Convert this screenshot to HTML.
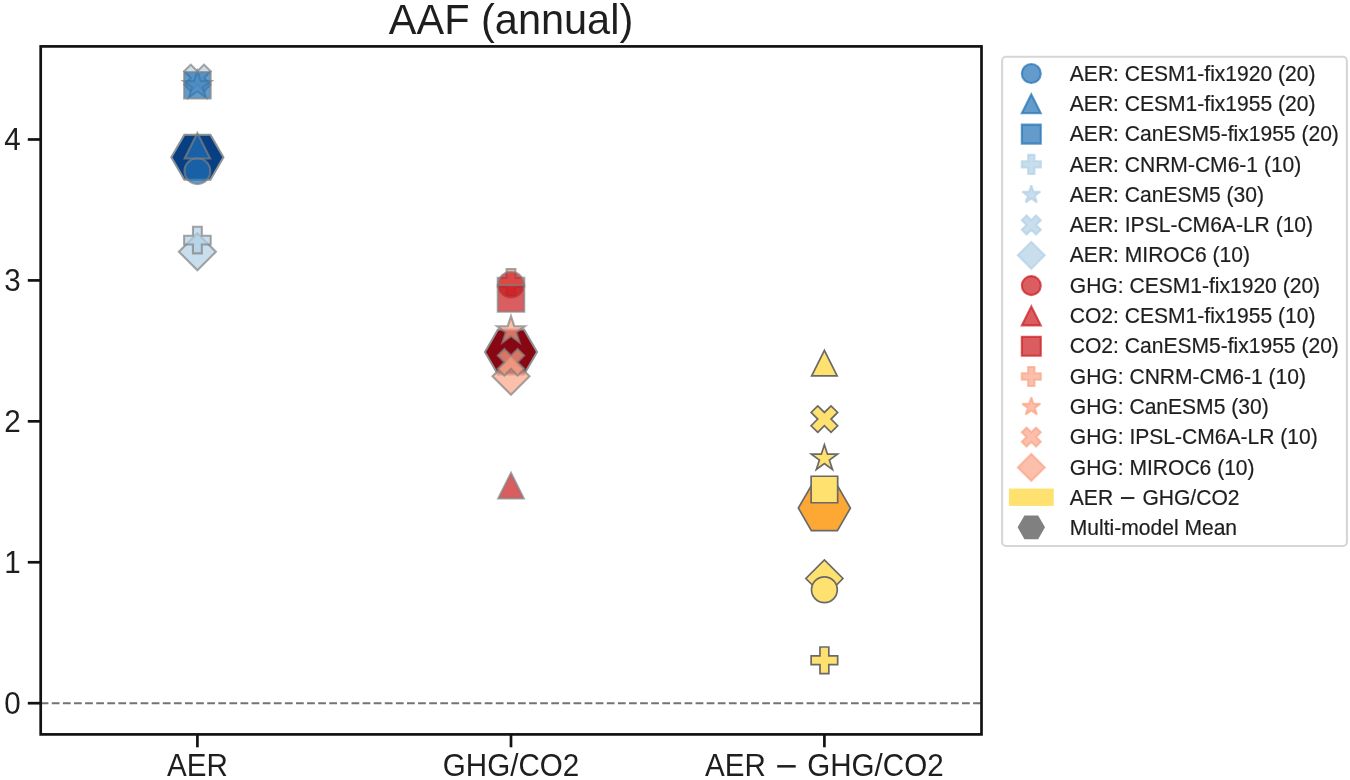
<!DOCTYPE html>
<html lang="en">
<head>
<meta charset="utf-8">
<title>AAF (annual)</title>
<style>
html,body{margin:0;padding:0;background:#ffffff;}
body{width:1350px;height:780px;overflow:hidden;font-family:"Liberation Sans",Arial,sans-serif;}
svg{display:block;}
</style>
</head>
<body>
<svg width="1350" height="780" viewBox="0 0 1350 780">
<rect width="1350" height="780" fill="#ffffff"/>
<line x1="40.7" y1="703.2" x2="981.5" y2="703.2" stroke="#737373" stroke-width="2.08" stroke-dasharray="7.75 3.35"/>
<g><path d="M223.45 157.2 L210.43 134.64 L184.38 134.64 L171.35 157.2 L184.38 179.76 L210.43 179.76 Z" fill="#083f82" fill-opacity="1" stroke="#8e9393" stroke-opacity="1" stroke-width="2" stroke-linejoin="miter" stroke-miterlimit="10"/>
<path d="M197.4 270.23 L215.93 251.7 L197.4 233.17 L178.87 251.7 Z" fill="#b0d0e5" fill-opacity="0.7" stroke="#808080" stroke-opacity="0.7" stroke-width="2.08" stroke-linejoin="miter" stroke-miterlimit="10"/>
<path d="M190.76 91.18 L197.4 84.54 L204.04 91.18 L210.68 84.54 L204.04 77.9 L210.68 71.26 L204.04 64.62 L197.4 71.26 L190.76 64.62 L184.12 71.26 L190.76 77.9 L184.12 84.54 Z" fill="#b0d0e5" fill-opacity="0.7" stroke="#808080" stroke-opacity="0.7" stroke-width="2.08" stroke-linejoin="miter" stroke-miterlimit="10"/>
<path d="M197.4 71 L194.12 81.09 L183.51 81.09 L192.1 87.32 L188.82 97.41 L197.4 91.18 L205.98 97.41 L202.7 87.32 L211.29 81.09 L200.68 81.09 Z" fill="#b0d0e5" fill-opacity="0.7" stroke="#808080" stroke-opacity="0.7" stroke-width="2.08" stroke-linejoin="miter" stroke-miterlimit="10"/>
<path d="M192.97 253.38 L201.83 253.38 L201.83 244.53 L210.68 244.53 L210.68 235.67 L201.83 235.67 L201.83 226.82 L192.97 226.82 L192.97 235.67 L184.12 235.67 L184.12 244.53 L192.97 244.53 Z" fill="#b0d0e5" fill-opacity="0.7" stroke="#808080" stroke-opacity="0.7" stroke-width="2.08" stroke-linejoin="miter" stroke-miterlimit="10"/>
<circle cx="197.4" cy="171.2" r="12.9" fill="#2171b5" fill-opacity="0.7" stroke="#808080" stroke-opacity="0.7" stroke-width="2.08" stroke-linejoin="miter" stroke-miterlimit="10"/>
<path d="M197.4 133.05 L184.65 158.55 L210.15 158.55 Z" fill="#2171b5" fill-opacity="0.7" stroke="#808080" stroke-opacity="0.7" stroke-width="2.08" stroke-linejoin="miter" stroke-miterlimit="10"/>
<path d="M184.12 98.53 L210.68 98.53 L210.68 71.97 L184.12 71.97 Z" fill="#2171b5" fill-opacity="0.7" stroke="#808080" stroke-opacity="0.7" stroke-width="2.08" stroke-linejoin="miter" stroke-miterlimit="10"/>
<path d="M537.05 352 L524.02 329.44 L497.98 329.44 L484.95 352 L497.97 374.56 L524.02 374.56 Z" fill="#880712" fill-opacity="1" stroke="#8e9393" stroke-opacity="1" stroke-width="2" stroke-linejoin="miter" stroke-miterlimit="10"/>
<path d="M511 394.73 L529.53 376.2 L511 357.67 L492.47 376.2 Z" fill="#fba487" fill-opacity="0.7" stroke="#808080" stroke-opacity="0.7" stroke-width="2.08" stroke-linejoin="miter" stroke-miterlimit="10"/>
<path d="M504.36 375.47 L511 368.84 L517.64 375.47 L524.27 368.84 L517.64 362.2 L524.27 355.56 L517.64 348.93 L511 355.56 L504.36 348.93 L497.73 355.56 L504.36 362.2 L497.73 368.84 Z" fill="#fba487" fill-opacity="0.7" stroke="#808080" stroke-opacity="0.7" stroke-width="2.08" stroke-linejoin="miter" stroke-miterlimit="10"/>
<path d="M511 316.1 L507.72 326.19 L497.11 326.19 L505.7 332.42 L502.42 342.51 L511 336.28 L519.58 342.51 L516.3 332.42 L524.89 326.19 L514.28 326.19 Z" fill="#fba487" fill-opacity="0.7" stroke="#808080" stroke-opacity="0.7" stroke-width="2.08" stroke-linejoin="miter" stroke-miterlimit="10"/>
<path d="M506.57 295.57 L515.42 295.57 L515.42 286.73 L524.27 286.73 L524.27 277.88 L515.42 277.88 L515.42 269.03 L506.57 269.03 L506.57 277.88 L497.73 277.88 L497.73 286.73 L506.57 286.73 Z" fill="#fba487" fill-opacity="0.7" stroke="#808080" stroke-opacity="0.7" stroke-width="2.08" stroke-linejoin="miter" stroke-miterlimit="10"/>
<circle cx="511" cy="284.6" r="12.9" fill="#cb181d" fill-opacity="0.7" stroke="#808080" stroke-opacity="0.7" stroke-width="2.08" stroke-linejoin="miter" stroke-miterlimit="10"/>
<path d="M511 472.95 L498.25 498.45 L523.75 498.45 Z" fill="#cb181d" fill-opacity="0.7" stroke="#808080" stroke-opacity="0.7" stroke-width="2.08" stroke-linejoin="miter" stroke-miterlimit="10"/>
<path d="M497.73 311.77 L524.27 311.77 L524.27 285.23 L497.73 285.23 Z" fill="#cb181d" fill-opacity="0.7" stroke="#808080" stroke-opacity="0.7" stroke-width="2.08" stroke-linejoin="miter" stroke-miterlimit="10"/>
<path d="M850.45 508.1 L837.42 485.54 L811.38 485.54 L798.35 508.1 L811.38 530.66 L837.42 530.66 Z" fill="#fda834" fill-opacity="1" stroke="#696969" stroke-opacity="1" stroke-width="1.7" stroke-linejoin="miter" stroke-miterlimit="10"/>
<path d="M824.4 597.03 L842.93 578.5 L824.4 559.97 L805.87 578.5 Z" fill="#ffe170" fill-opacity="1" stroke="#696969" stroke-opacity="1" stroke-width="1.7" stroke-linejoin="miter" stroke-miterlimit="10"/>
<path d="M817.76 432.38 L824.4 425.74 L831.04 432.38 L837.67 425.74 L831.04 419.1 L837.67 412.46 L831.04 405.83 L824.4 412.46 L817.76 405.83 L811.12 412.46 L817.76 419.1 L811.12 425.74 Z" fill="#ffe170" fill-opacity="1" stroke="#696969" stroke-opacity="1" stroke-width="1.7" stroke-linejoin="miter" stroke-miterlimit="10"/>
<path d="M824.4 444.65 L821.31 454.15 L811.32 454.15 L819.41 460.02 L816.32 469.52 L824.4 463.65 L832.48 469.52 L829.39 460.02 L837.48 454.15 L827.49 454.15 Z" fill="#ffe170" fill-opacity="1" stroke="#696969" stroke-opacity="1" stroke-width="1.7" stroke-linejoin="miter" stroke-miterlimit="10"/>
<path d="M819.98 673.57 L828.82 673.57 L828.82 664.72 L837.67 664.72 L837.67 655.88 L828.82 655.88 L828.82 647.02 L819.98 647.02 L819.98 655.88 L811.12 655.88 L811.12 664.72 L819.98 664.72 Z" fill="#ffe170" fill-opacity="1" stroke="#696969" stroke-opacity="1" stroke-width="1.7" stroke-linejoin="miter" stroke-miterlimit="10"/>
<circle cx="824.4" cy="589.8" r="12.9" fill="#ffe170" fill-opacity="1" stroke="#696969" stroke-opacity="1" stroke-width="1.7" stroke-linejoin="miter" stroke-miterlimit="10"/>
<path d="M824.4 350.45 L811.65 375.95 L837.15 375.95 Z" fill="#ffe170" fill-opacity="1" stroke="#696969" stroke-opacity="1" stroke-width="1.7" stroke-linejoin="miter" stroke-miterlimit="10"/>
<path d="M811.12 502.77 L837.67 502.77 L837.67 476.23 L811.12 476.23 Z" fill="#ffe170" fill-opacity="1" stroke="#696969" stroke-opacity="1" stroke-width="1.7" stroke-linejoin="miter" stroke-miterlimit="10"/></g>
<rect x="40.7" y="46.4" width="940.8" height="688" fill="none" stroke="#121212" stroke-width="2.7"/>
<line x1="27.8" y1="703.2" x2="40.7" y2="703.2" stroke="#121212" stroke-width="2.7"/>
<line x1="27.8" y1="562.27" x2="40.7" y2="562.27" stroke="#121212" stroke-width="2.7"/>
<line x1="27.8" y1="421.34" x2="40.7" y2="421.34" stroke="#121212" stroke-width="2.7"/>
<line x1="27.8" y1="280.41" x2="40.7" y2="280.41" stroke="#121212" stroke-width="2.7"/>
<line x1="27.8" y1="139.48" x2="40.7" y2="139.48" stroke="#121212" stroke-width="2.7"/>
<line x1="197.4" y1="734.4" x2="197.4" y2="747.3" stroke="#121212" stroke-width="2.7"/>
<line x1="511" y1="734.4" x2="511" y2="747.3" stroke="#121212" stroke-width="2.7"/>
<line x1="824.4" y1="734.4" x2="824.4" y2="747.3" stroke="#121212" stroke-width="2.7"/>
<g font-family="'Liberation Sans', Arial, sans-serif" fill="#1e1e1e">
<text transform="translate(511 33.6) scale(1 1.032)" font-size="41.5" text-anchor="middle">AAF (annual)</text>
<text transform="translate(20.7 714.2) scale(1 1.03)" font-size="29.6" text-anchor="end">0</text>
<text transform="translate(20.7 573.27) scale(1 1.03)" font-size="29.6" text-anchor="end">1</text>
<text transform="translate(20.7 432.34) scale(1 1.03)" font-size="29.6" text-anchor="end">2</text>
<text transform="translate(20.7 291.41) scale(1 1.03)" font-size="29.6" text-anchor="end">3</text>
<text transform="translate(20.7 150.48) scale(1 1.03)" font-size="29.6" text-anchor="end">4</text>
<text transform="translate(197.4 775.8) scale(1 1.04)" font-size="29.6" text-anchor="middle">AER</text>
<text transform="translate(511 775.8) scale(1 1.04)" font-size="29.6" text-anchor="middle">GHG/CO2</text>
<text transform="translate(824.4 775.8) scale(1 1.04)" font-size="29.6" text-anchor="middle">AER <tspan font-family="'DejaVu Sans', sans-serif">−</tspan> GHG/CO2</text>
</g>
<rect x="1002.1" y="56.7" width="344.8" height="489.3" rx="4" ry="4" fill="#ffffff" fill-opacity="0.8" stroke="#cccccc" stroke-opacity="0.8" stroke-width="2.08"/>
<g font-family="'Liberation Sans', Arial, sans-serif" fill="#1e1e1e" stroke="#1e1e1e" stroke-width="0.2">
<text transform="translate(1069.8 80.65) scale(1 1.06)" font-size="21.05" text-anchor="start">AER: CESM1-fix1920 (20)</text>
<text transform="translate(1069.8 110.95) scale(1 1.06)" font-size="21.05" text-anchor="start">AER: CESM1-fix1955 (20)</text>
<text transform="translate(1069.8 141.25) scale(1 1.06)" font-size="21.05" text-anchor="start">AER: CanESM5-fix1955 (20)</text>
<text transform="translate(1069.8 171.55) scale(1 1.06)" font-size="21.05" text-anchor="start">AER: CNRM-CM6-1 (10)</text>
<text transform="translate(1069.8 201.85) scale(1 1.06)" font-size="21.05" text-anchor="start">AER: CanESM5 (30)</text>
<text transform="translate(1069.8 232.15) scale(1 1.06)" font-size="21.05" text-anchor="start">AER: IPSL-CM6A-LR (10)</text>
<text transform="translate(1069.8 262.45) scale(1 1.06)" font-size="21.05" text-anchor="start">AER: MIROC6 (10)</text>
<text transform="translate(1069.8 292.75) scale(1 1.06)" font-size="21.05" text-anchor="start">GHG: CESM1-fix1920 (20)</text>
<text transform="translate(1069.8 323.05) scale(1 1.06)" font-size="21.05" text-anchor="start">CO2: CESM1-fix1955 (10)</text>
<text transform="translate(1069.8 353.35) scale(1 1.06)" font-size="21.05" text-anchor="start">CO2: CanESM5-fix1955 (20)</text>
<text transform="translate(1069.8 383.65) scale(1 1.06)" font-size="21.05" text-anchor="start">GHG: CNRM-CM6-1 (10)</text>
<text transform="translate(1069.8 413.95) scale(1 1.06)" font-size="21.05" text-anchor="start">GHG: CanESM5 (30)</text>
<text transform="translate(1069.8 444.25) scale(1 1.06)" font-size="21.05" text-anchor="start">GHG: IPSL-CM6A-LR (10)</text>
<text transform="translate(1069.8 474.55) scale(1 1.06)" font-size="21.05" text-anchor="start">GHG: MIROC6 (10)</text>
<text transform="translate(1069.8 504.85) scale(1 1.06)" font-size="21.05" text-anchor="start">AER <tspan font-family="'DejaVu Sans', sans-serif">−</tspan> GHG/CO2</text>
<text transform="translate(1069.8 535.15) scale(1 1.06)" font-size="21.05" text-anchor="start">Multi-model Mean</text>
</g>
<g><circle cx="1031.3" cy="73.5" r="9.5" fill="#2171b5" fill-opacity="0.7" stroke="#2171b5" stroke-opacity="0.7" stroke-width="2.08" stroke-linejoin="miter" stroke-miterlimit="10"/>
<path d="M1031.3 94.3 L1021.8 113.3 L1040.8 113.3 Z" fill="#2171b5" fill-opacity="0.7" stroke="#2171b5" stroke-opacity="0.7" stroke-width="2.08" stroke-linejoin="miter" stroke-miterlimit="10"/>
<path d="M1021.8 143.6 L1040.8 143.6 L1040.8 124.6 L1021.8 124.6 Z" fill="#2171b5" fill-opacity="0.7" stroke="#2171b5" stroke-opacity="0.7" stroke-width="2.08" stroke-linejoin="miter" stroke-miterlimit="10"/>
<path d="M1028.13 173.9 L1034.47 173.9 L1034.47 167.57 L1040.8 167.57 L1040.8 161.23 L1034.47 161.23 L1034.47 154.9 L1028.13 154.9 L1028.13 161.23 L1021.8 161.23 L1021.8 167.57 L1028.13 167.57 Z" fill="#b0d0e5" fill-opacity="0.7" stroke="#b0d0e5" stroke-opacity="0.7" stroke-width="2.08" stroke-linejoin="miter" stroke-miterlimit="10"/>
<path d="M1031.3 185.2 L1029.17 191.76 L1022.26 191.76 L1027.85 195.82 L1025.72 202.39 L1031.3 198.33 L1036.88 202.39 L1034.75 195.82 L1040.34 191.76 L1033.43 191.76 Z" fill="#b0d0e5" fill-opacity="0.7" stroke="#b0d0e5" stroke-opacity="0.7" stroke-width="2.08" stroke-linejoin="bevel" stroke-miterlimit="10"/>
<path d="M1026.55 234.5 L1031.3 229.75 L1036.05 234.5 L1040.8 229.75 L1036.05 225 L1040.8 220.25 L1036.05 215.5 L1031.3 220.25 L1026.55 215.5 L1021.8 220.25 L1026.55 225 L1021.8 229.75 Z" fill="#b0d0e5" fill-opacity="0.7" stroke="#b0d0e5" stroke-opacity="0.7" stroke-width="2.08" stroke-linejoin="miter" stroke-miterlimit="10"/>
<path d="M1031.3 268.74 L1044.74 255.3 L1031.3 241.86 L1017.86 255.3 Z" fill="#b0d0e5" fill-opacity="0.7" stroke="#b0d0e5" stroke-opacity="0.7" stroke-width="2.08" stroke-linejoin="miter" stroke-miterlimit="10"/>
<circle cx="1031.3" cy="285.6" r="9.5" fill="#cb181d" fill-opacity="0.7" stroke="#cb181d" stroke-opacity="0.7" stroke-width="2.08" stroke-linejoin="miter" stroke-miterlimit="10"/>
<path d="M1031.3 306.4 L1021.8 325.4 L1040.8 325.4 Z" fill="#cb181d" fill-opacity="0.7" stroke="#cb181d" stroke-opacity="0.7" stroke-width="2.08" stroke-linejoin="miter" stroke-miterlimit="10"/>
<path d="M1021.8 355.7 L1040.8 355.7 L1040.8 336.7 L1021.8 336.7 Z" fill="#cb181d" fill-opacity="0.7" stroke="#cb181d" stroke-opacity="0.7" stroke-width="2.08" stroke-linejoin="miter" stroke-miterlimit="10"/>
<path d="M1028.13 386 L1034.47 386 L1034.47 379.67 L1040.8 379.67 L1040.8 373.33 L1034.47 373.33 L1034.47 367 L1028.13 367 L1028.13 373.33 L1021.8 373.33 L1021.8 379.67 L1028.13 379.67 Z" fill="#fba487" fill-opacity="0.7" stroke="#fba487" stroke-opacity="0.7" stroke-width="2.08" stroke-linejoin="miter" stroke-miterlimit="10"/>
<path d="M1031.3 397.3 L1029.17 403.86 L1022.26 403.86 L1027.85 407.92 L1025.72 414.49 L1031.3 410.43 L1036.88 414.49 L1034.75 407.92 L1040.34 403.86 L1033.43 403.86 Z" fill="#fba487" fill-opacity="0.7" stroke="#fba487" stroke-opacity="0.7" stroke-width="2.08" stroke-linejoin="bevel" stroke-miterlimit="10"/>
<path d="M1026.55 446.6 L1031.3 441.85 L1036.05 446.6 L1040.8 441.85 L1036.05 437.1 L1040.8 432.35 L1036.05 427.6 L1031.3 432.35 L1026.55 427.6 L1021.8 432.35 L1026.55 437.1 L1021.8 441.85 Z" fill="#fba487" fill-opacity="0.7" stroke="#fba487" stroke-opacity="0.7" stroke-width="2.08" stroke-linejoin="miter" stroke-miterlimit="10"/>
<path d="M1031.3 480.84 L1044.74 467.4 L1031.3 453.96 L1017.86 467.4 Z" fill="#fba487" fill-opacity="0.7" stroke="#fba487" stroke-opacity="0.7" stroke-width="2.08" stroke-linejoin="miter" stroke-miterlimit="10"/>
<rect x="1009.95" y="489.6" width="42.7" height="15.3" fill="#ffe170" stroke="#ffe170" stroke-width="2.08"/>
<path d="M1043.8 527.3 L1037.55 516.47 L1025.05 516.47 L1018.8 527.3 L1025.05 538.13 L1037.55 538.13 Z" fill="#808080" fill-opacity="1" stroke="#808080" stroke-opacity="1" stroke-width="2.08" stroke-linejoin="miter" stroke-miterlimit="10"/></g>
</svg>
</body>
</html>
